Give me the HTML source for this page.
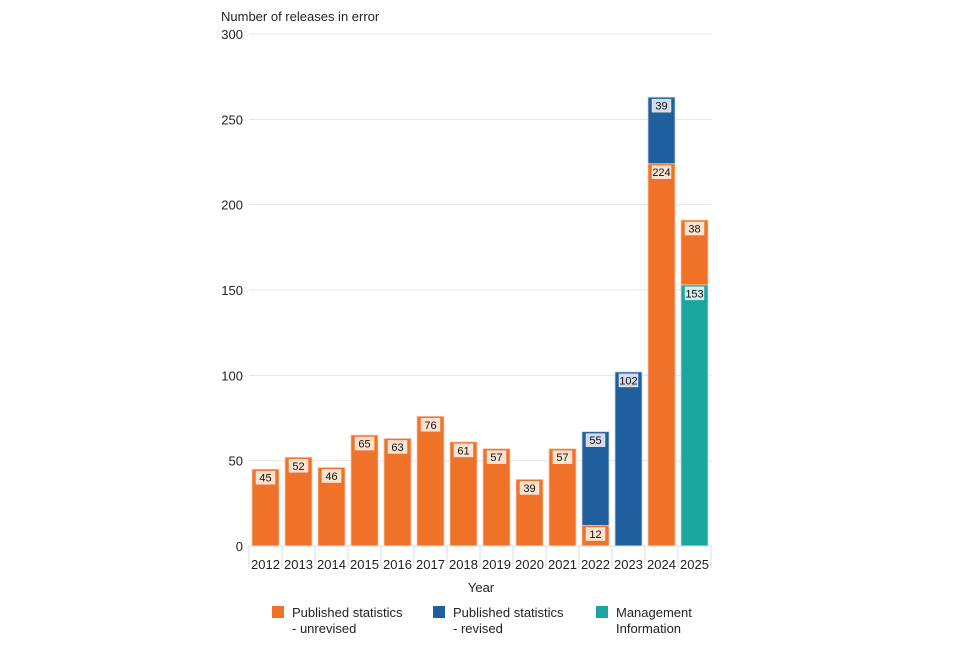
<!DOCTYPE html>
<html><head><meta charset="utf-8"><style>
body{margin:0;background:#fff;font-family:"Liberation Sans",sans-serif}
</style></head><body>
<svg id="c" width="960" height="640" font-family="Liberation Sans, sans-serif"></svg>
<script>
const years=["2012","2013","2014","2015","2016","2017","2018","2019","2020","2021","2022","2023","2024","2025"];
const unrevised=[45,52,46,65,63,76,61,57,39,57,12,0,224,38];
const revised=[0,0,0,0,0,0,0,0,0,0,55,102,39,0];
const management=[0,0,0,0,0,0,0,0,0,0,0,0,0,153];
const yTicks=[0,50,100,150,200,250,300];
const NS="http://www.w3.org/2000/svg";
const svg=document.getElementById('c');
function el(t,a,p){const e=document.createElementNS(NS,t);for(const k in a)e.setAttribute(k,a[k]);(p||svg).appendChild(e);return e;}
const x0=249,band=33,y0=546,yMax=300,yTop=34;
const y=v=>y0-(v/yMax)*(y0-yTop);
const xb=i=>x0+i*band;
let t=el('text',{x:221,y:21,'font-size':13,fill:'#222'});t.textContent='Number of releases in error';

yTicks.forEach(v=>{
  const g=el('line',{x1:x0,x2:712,y1:y(v),y2:y(v),stroke:'#e4e4e4','stroke-width':1});
  
  const l=el('text',{x:243,y:y(v)+5,'text-anchor':'end','font-size':13,fill:'#222'});l.textContent=v;
  
});
const series=[{d:management,c:'#1aa7a0',lf:'#d2eeec',n:'management'},{d:unrevised,c:'#f07229',lf:'#fde3cf',n:'unrevised'},{d:revised,c:'#1f5f9e',lf:'#d3dbeb',n:'revised'}];
years.forEach((yr,i)=>{
  let base=0;
  const order=i===13?[0,1,2]:[1,2,0];
  order.forEach(si=>{
    const s=series[si],v=s.d[i];if(!v)return;
    const top=base+v;
    const r=el('rect',{x:xb(i)+3,y:y(top),width:27,height:y(base)-y(top),fill:s.c,stroke:'#f6c9ad','stroke-width':0.8});
    if(s.n!=='unrevised')r.setAttribute('stroke','#c9d6e6');
    
    const lb=el('rect',{x:xb(i)+7,y:y(top)+2,width:19,height:13,fill:s.lf,stroke:'#eee','stroke-width':0.5});
    
    const tx=el('text',{x:xb(i)+16.5,y:y(top)+12.5,'text-anchor':'middle','font-size':11,fill:'#111'});tx.textContent=v;
    
    base=top;
  });
  const tk=el('line',{x1:xb(i),x2:xb(i),y1:y0,y2:y0+22,stroke:'#ddd'});
  
  const xl=el('text',{x:xb(i)+16.5,y:y0+23,'text-anchor':'middle','font-size':13,fill:'#222'});xl.textContent=yr;
  
});
const tk=el('line',{x1:xb(14),x2:xb(14),y1:y0,y2:y0+22,stroke:'#ddd'});

const bl=el('line',{x1:x0,x2:712,y1:y0,y2:y0,stroke:'#ddd'});

const xt=el('text',{x:481,y:592,'text-anchor':'middle','font-size':13,fill:'#222'});xt.textContent='Year';

const leg=[[272,'#f07229','Published statistics','- unrevised'],[433,'#1f5f9e','Published statistics','- revised'],[596,'#1aa7a0','Management','Information']];
leg.forEach(L=>{
  const g=el('g',{});
  el('rect',{x:L[0],y:606,width:12,height:12,fill:L[1]},g);
  const a=el('text',{x:L[0]+20,y:617,'font-size':13,fill:'#222'},g);a.textContent=L[2];
  const b=el('text',{x:L[0]+20,y:633,'font-size':13,fill:'#222'},g);b.textContent=L[3];
});
</script>
</body></html>
